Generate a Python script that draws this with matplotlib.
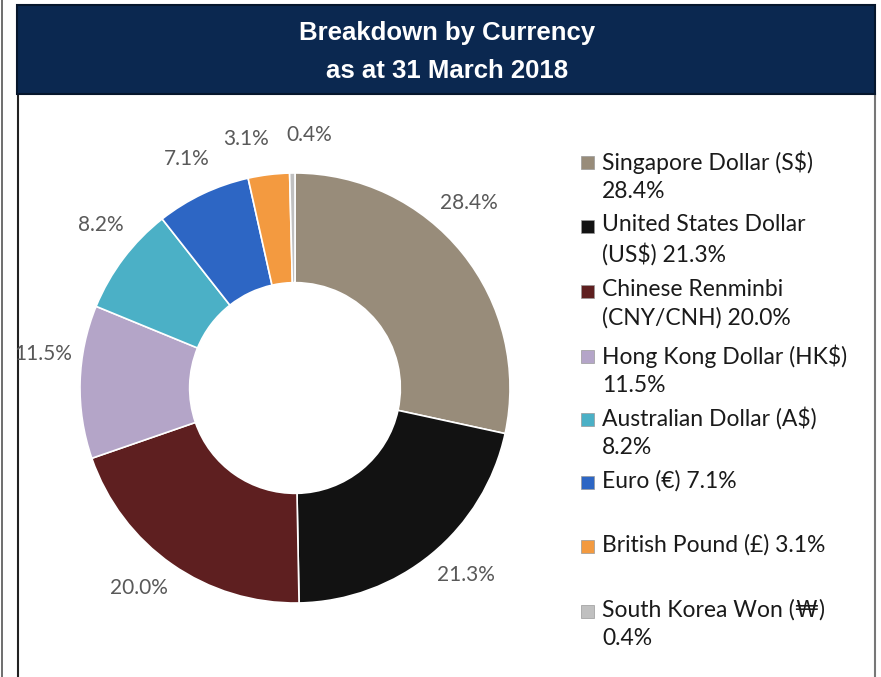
import matplotlib
matplotlib.use('Agg')
import matplotlib.pyplot as plt
from matplotlib.patches import Rectangle
import numpy as np

# data
currencies = ['Singapore Dollar (S$)\n28.4%', 'United States Dollar\n(US$) 21.3%',
              'Chinese Renminbi\n(CNY/CNH) 20.0%', 'Hong Kong Dollar (HK$)\n11.5%',
              'Australian Dollar (A$)\n8.2%', 'Euro (€) 7.1%',
              'British Pound (£) 3.1%', 'South Korea Won (₩)\n0.4%']
shares = [28.4, 21.3, 20.0, 11.5, 8.2, 7.1, 3.1, 0.4]
colors = ['#988c7a', '#121212', '#5e1f20', '#b4a5c8', '#4bb0c6', '#2d66c4', '#f39a40', '#c0c0c0']
title_lines = ['Breakdown by Currency', 'as at 31 March 2018']

# label placement nudges (deg) so small slices don't collide, like excel's best fit
lab_nudge = [8, 3, -3, -6, -3, 0, 4, -4]

W, H = 881, 677
fig = plt.figure(figsize=(W / 100, H / 100), dpi=100)
ax = fig.add_axes([0, 0, 1, 1])

lab_font = ['Lato', 'DejaVu Sans']

# donut, pixel coords with y flipped (y_up = H - y_pix)
cx, cy, r = 295, H - 388, 215
wedges, _ = ax.pie(shares, colors=colors, startangle=90, counterclock=False,
                   center=(cx, cy), radius=r,
                   wedgeprops=dict(width=r * 0.51, edgecolor='white', linewidth=1.2))
for w in wedges:
    w.set_zorder(2)

# percentage labels outside each wedge
for w, v, dn in zip(wedges, shares, lab_nudge):
    ang = np.deg2rad((w.theta1 + w.theta2) / 2 + dn)
    rr = r * 1.18
    ax.text(cx + rr * np.cos(ang), cy + rr * np.sin(ang), f'{v:.1f}%',
            ha='center', va='center', fontsize=15, color='#595959', family=lab_font)

ax.set_xlim(0, W)
ax.set_ylim(0, H)
ax.set_aspect('equal')
ax.axis('off')

# title box
ax.add_patch(Rectangle((17, H - 94), 858, 89, facecolor='#0b2850', edgecolor='#06162c', linewidth=1.5, zorder=3))
ax.text(447, H - 33, title_lines[0], ha='center', va='center', color='white',
        fontsize=18.5, fontweight='bold', family='Liberation Sans', zorder=4)
ax.text(447, H - 71, title_lines[1], ha='center', va='center', color='white',
        fontsize=18.5, fontweight='bold', family='Liberation Sans', zorder=4)

# frame lines
ax.plot([2, 2], [0, H], color='#555555', lw=1.2)
ax.plot([18, 18], [0, H - 94], color='#222222', lw=1.5)
ax.plot([875, 875], [0, H - 94], color='#777777', lw=1.5)

# legend
leg_y = [162, 226, 291, 356, 419, 482, 546, 611]
for name, c, y in zip(currencies, colors, leg_y):
    ax.add_patch(Rectangle((581, H - y - 6.5), 13, 13, facecolor=c, edgecolor='#999999', linewidth=0.5))
    ax.text(602, H - y + 12, name, ha='left', va='top', fontsize=16.5, color='#1a1a1a',
            family=lab_font, linespacing=1.42)

fig.savefig('out.png', dpi=100)
